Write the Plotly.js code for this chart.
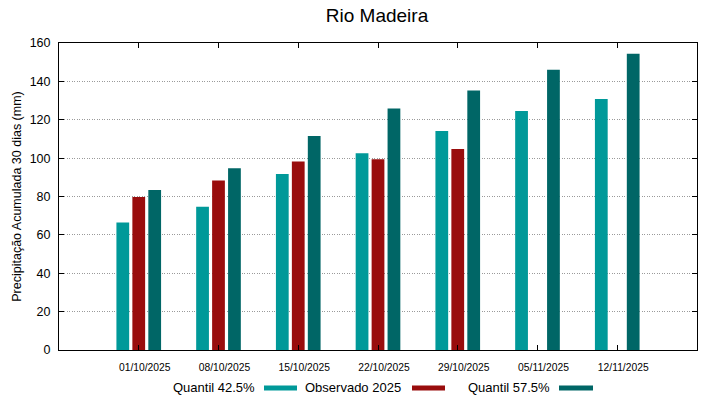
<!DOCTYPE html>
<html>
<head>
<meta charset="utf-8">
<script src="https://cdn.plot.ly/plotly-3.0.1.min.js"></script>
<style>html,body{margin:0;padding:0;background:#fff;}#chart{width:719px;height:399px;}</style>
</head>
<body>
<div id="chart"></div>
<script>
const categories = ["01/10/2025","08/10/2025","15/10/2025","22/10/2025","29/10/2025","05/11/2025","12/11/2025"];
const quantil425 = [66.5, 74.7, 91.7, 102.5, 114.1, 124.5, 130.8];
const observado2025 = [79.7, 88.4, 98.3, 99.4, 104.7, null, null];
const quantil575 = [83.4, 94.7, 111.5, 125.8, 135.3, 146.1, 154.4];
const seriesNames = ["Quantil 42.5%", "Observado 2025", "Quantil 57.5%"];
const colors = ["#009999", "#990d0d", "#006666"];
const yTicks = [0, 20, 40, 60, 80, 100, 120, 140, 160];

const FONT = "Liberation Sans, Arial, sans-serif";
const L = 59, R = 697, T = 43, B = 350;
const px = x => (x - L) / (R - L);
const py = y => (B - y) / (B - T);

const data = [quantil425, observado2025, quantil575].map((v, i) => ({
  type: "bar", x: categories, y: v, name: seriesNames[i],
  marker: {color: colors[i], line: {width: 0}}, showlegend: false, hoverinfo: "skip"
}));

// gnuplot-style legend: text followed by a sample swatch
const legendItems = [
  {textRight: 257, sw: [264, 297]},
  {textRight: 403, sw: [412, 445]},
  {textRight: 552, sw: [559, 593]}
];
const annotations = [], shapes = [];
legendItems.forEach((it, i) => {
  annotations.push({xref: "paper", yref: "paper", x: px(it.textRight), y: py(387.5),
    xanchor: "right", yanchor: "middle", text: seriesNames[i], showarrow: false,
    font: {family: FONT, size: 13, color: "#000"}});
  shapes.push({type: "rect", xref: "paper", yref: "paper", x0: px(it.sw[0]), x1: px(it.sw[1]),
    y0: py(390.5), y1: py(385.5), fillcolor: colors[i], line: {width: 0}});
});

const layout = {
  width: 719, height: 399,
  margin: {l: L, r: 719 - R, t: T, b: 399 - B, pad: 0},
  paper_bgcolor: "#fff", plot_bgcolor: "#fff",
  font: {family: FONT, color: "#000"},
  title: {text: "Rio Madeira", font: {family: FONT, size: 19, color: "#000"},
    xref: "paper", x: px(377), xanchor: "center", yref: "container", y: 1 - 15/399, yanchor: "middle"},
  barmode: "group", bargap: 0.4, bargroupgap: 0.2,
  xaxis: {type: "category", range: [-1, 7], showgrid: false, zeroline: false,
    showline: true, linecolor: "#000", linewidth: 1, mirror: "ticks",
    ticks: "inside", ticklen: 5, tickcolor: "#000", ticklabelstandoff: 8, ticklabelshift: 6,
    tickfont: {family: FONT, size: 10.3, color: "#000"}, fixedrange: true},
  yaxis: {range: [0, 160], tickvals: yTicks, ticktext: yTicks.map(String),
    showgrid: true, gridcolor: "#9a9a9a", griddash: "1px,1.5px", gridwidth: 1, zeroline: false,
    showline: true, linecolor: "#000", linewidth: 1, mirror: "ticks",
    ticks: "inside", ticklen: 5, tickcolor: "#000", ticklabelstandoff: 5,
    tickfont: {family: FONT, size: 12.5, color: "#000"},
    title: {text: "Precipitação Acumulada 30 dias (mm)", font: {family: FONT, size: 12.5, color: "#000"}, standoff: 5},
    fixedrange: true},
  annotations: annotations, shapes: shapes, showlegend: false
};

Plotly.newPlot("chart", data, layout, {staticPlot: true, displayModeBar: false});
</script>
</body>
</html>
